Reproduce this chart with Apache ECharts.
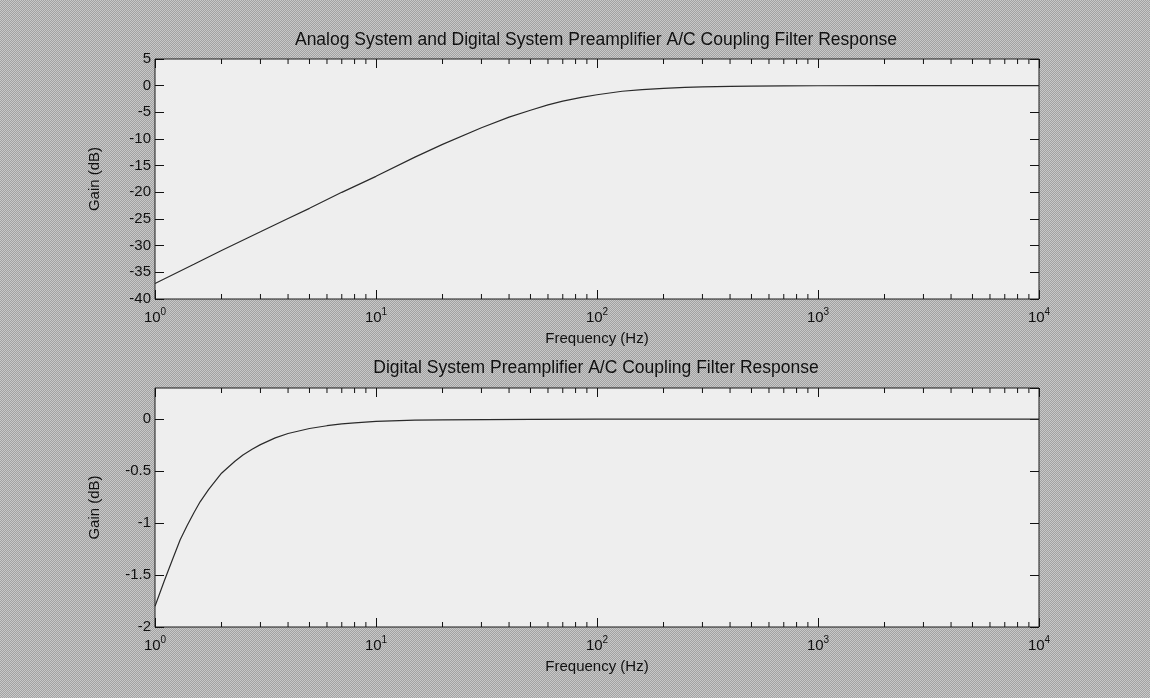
<!DOCTYPE html>
<html>
<head>
<meta charset="utf-8">
<title>Preamplifier A/C Coupling Filter Response</title>
<script src="https://cdn.jsdelivr.net/npm/echarts@6/dist/echarts.min.js"></script>
<style>
html, body { margin: 0; padding: 0; width: 1150px; height: 698px; overflow: hidden;
  background: repeating-conic-gradient(#a2a2a2 0% 25%, #c8c8c8 0% 50%) 0 0 / 2px 2px; }
#chart { width: 1150px; height: 698px; }
</style>
</head>
<body>
<div id="chart"></div>
<script>
// analog + digital response (top plot)
var analogFreq = [1, 1.5, 2, 3, 4, 5, 7, 10, 15, 20, 30, 40, 50, 60, 70, 85, 100, 130, 160, 200, 250, 300, 400, 500, 700, 1000, 2000, 5000, 10000];
var analogGain = [-37.1, -33.5, -30.9, -27.4, -24.9, -23.0, -20.0, -17.0, -13.4, -11.0, -7.9, -5.9, -4.6, -3.6, -2.9, -2.2, -1.7, -1.05, -0.75, -0.5, -0.33, -0.22, -0.12, -0.08, -0.04, -0.02, 0, 0, 0];

// digital response (bottom plot)
var digitalFreq = [1, 1.1, 1.2, 1.3, 1.4, 1.5, 1.6, 1.75, 1.9, 2, 2.15, 2.3, 2.5, 2.75, 3, 3.5, 4, 5, 6, 7, 8, 10, 15, 20, 50, 100, 1000, 10000];
var digitalGain = [-1.80, -1.56, -1.35, -1.16, -1.02, -0.90, -0.795, -0.675, -0.58, -0.52, -0.46, -0.405, -0.345, -0.29, -0.245, -0.18, -0.138, -0.09, -0.063, -0.046, -0.035, -0.022, -0.01, -0.006, -0.001, 0, 0, 0];

var freqRange = [1, 10000];
var analogRange = [-40, 5, 5];     // min, max, step
var digitalRange = [-2, 0.3, 0.5];

var titles = ['Analog System and Digital System Preamplifier A/C Coupling Filter Response',
              'Digital System Preamplifier A/C Coupling Filter Response'];

// 2..9 in every decade, for the small log ticks
var minorTicks = [];
for (var d = 1; d < freqRange[1]; d *= 10) {
    for (var k = 2; k <= 9; k++) minorTicks.push([k * d, 0]);
}

var font = 'Liberation Sans, Arial, sans-serif';
var ink = '#111';

function xAxes(gridIndex) {
    var base = {
        type: 'log', logBase: 10, gridIndex: gridIndex,
        min: freqRange[0], max: freqRange[1],
        axisLine: { show: false, onZero: false },
        splitLine: { show: false },
        axisTick: { inside: true, length: 9, lineStyle: { color: ink } }
    };
    var bottom = Object.assign({}, base, {
        position: 'bottom',
        name: 'Frequency (Hz)', nameLocation: 'middle', nameGap: 32,
        nameTextStyle: { fontFamily: font, fontSize: 15, color: ink },
        axisLabel: {
            margin: 8,
            formatter: function (v) { return '{b|10}{s|' + Math.round(Math.log10(v)) + '}'; },
            rich: {
                b: { fontFamily: font, fontSize: 15, color: ink, lineHeight: 18, verticalAlign: 'bottom' },
                s: { fontFamily: font, fontSize: 10, color: ink, lineHeight: 10, verticalAlign: 'top' }
            }
        }
    });
    var top = Object.assign({}, base, { position: 'top', axisLabel: { show: false } });
    return [bottom, top];
}

function yAxes(gridIndex, r) {
    var base = {
        type: 'value', gridIndex: gridIndex,
        min: r[0], max: r[1], interval: r[2],
        axisLine: { show: false, onZero: false },
        splitLine: { show: false },
        axisTick: { inside: true, length: 9, lineStyle: { color: ink } }
    };
    var left = Object.assign({}, base, {
        position: 'left',
        name: 'Gain (dB)', nameLocation: 'middle', nameRotate: 90, nameGap: 53,
        nameTextStyle: { fontFamily: font, fontSize: 15, color: ink },
        axisLabel: { margin: 4, fontFamily: font, fontSize: 15, color: ink, showMaxLabel: r[1] % r[2] === 0 }
    });
    var right = Object.assign({}, base, { position: 'right', axisLabel: { show: false } });
    return [left, right];
}

function minorTickItem(params, api) {
    var x = api.coord([api.value(0), 0])[0];
    var cs = params.coordSys;
    var st = { stroke: ink, lineWidth: 1 };
    return {
        type: 'group',
        children: [
            { type: 'line', shape: { x1: x, y1: cs.y + cs.height, x2: x, y2: cs.y + cs.height - 5 }, style: st },
            { type: 'line', shape: { x1: x, y1: cs.y, x2: x, y2: cs.y + 5 }, style: st }
        ]
    };
}

function pairs(xs, ys) {
    return xs.map(function (x, i) { return [x, ys[i]]; });
}

var option = {
    animation: false,
    backgroundColor: 'transparent',
    title: [
        { text: titles[0], left: 596, top: 31, textAlign: 'center', padding: 0,
          textStyle: { fontFamily: font, fontSize: 17.5, fontWeight: 'normal', color: ink } },
        { text: titles[1], left: 596, top: 359, textAlign: 'center', padding: 0,
          textStyle: { fontFamily: font, fontSize: 17.5, fontWeight: 'normal', color: ink } }
    ],
    grid: [
        { left: 155, right: 111, top: 59, height: 240, show: true, backgroundColor: '#eeeeee', borderColor: '#1a1a1a', borderWidth: 1 },
        { left: 155, right: 111, top: 388, height: 239, show: true, backgroundColor: '#eeeeee', borderColor: '#1a1a1a', borderWidth: 1 }
    ],
    xAxis: xAxes(0).concat(xAxes(1)),
    yAxis: yAxes(0, analogRange).concat(yAxes(1, digitalRange)),
    series: [
        { type: 'line', xAxisIndex: 0, yAxisIndex: 0, data: pairs(analogFreq, analogGain),
          showSymbol: false, lineStyle: { color: '#2a2a2a', width: 1.2 } },
        { type: 'line', xAxisIndex: 2, yAxisIndex: 2, data: pairs(digitalFreq, digitalGain),
          showSymbol: false, lineStyle: { color: '#2a2a2a', width: 1.2 } },
        { type: 'custom', xAxisIndex: 0, yAxisIndex: 0, data: minorTicks, renderItem: minorTickItem, silent: true, clip: false },
        { type: 'custom', xAxisIndex: 2, yAxisIndex: 2, data: minorTicks, renderItem: minorTickItem, silent: true, clip: false }
    ]
};

echarts.init(document.getElementById('chart')).setOption(option);
</script>
</body>
</html>
